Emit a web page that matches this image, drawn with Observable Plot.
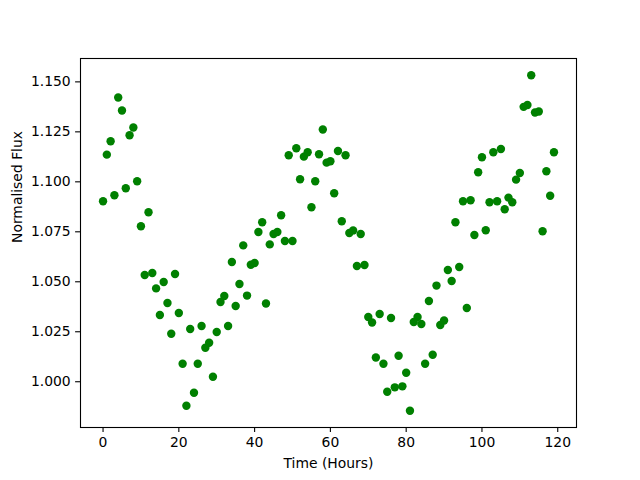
<!DOCTYPE html>
<html>
<head>
<meta charset="utf-8">
<script src="https://cdn.jsdelivr.net/npm/d3@7"></script>
<script src="https://cdn.jsdelivr.net/npm/@observablehq/plot@0.6"></script>
<style>
  html, body { margin: 0; padding: 0; background: #fff; }
  svg { display: block; }
</style>
</head>
<body>
<div id="chart"></div>
<script>
const hours = [
  0,1,2,3,4,5,6,7,8,9,10,11,12,13,14,15,16,17,18,19,
  20,21,22,23,24,25,26,27,28,29,30,31,32,33,34,35,36,37,38,39,
  40,41,42,43,44,45,46,47,48,49,50,51,52,53,54,55,56,57,58,59,
  60,61,62,63,64,65,66,67,68,69,70,71,72,73,74,75,76,77,78,79,
  80,81,82,83,84,85,86,87,88,89,90,91,92,93,94,95,96,97,98,99,
  100,101,102,103,104,105,106,107,108,109,110,111,112,113,114,115,116,117,118,119
];
const flux = [
  1.0903,1.1136,1.1203,1.0933,1.1422,1.1357,1.0968,1.1233,1.1272,1.1003,
  1.0778,1.0534,1.0848,1.0544,1.0467,1.0334,1.0499,1.0394,1.0240,1.0539,
  1.0344,1.0090,0.9880,1.0264,0.9945,1.0090,1.0279,1.0170,1.0195,1.0025,
  1.0249,1.0399,1.0429,1.0279,1.0599,1.0379,1.0489,1.0682,1.0431,1.0585,
  1.0594,1.0749,1.0798,1.0391,1.0687,1.0739,1.0749,1.0833,1.0704,1.1133,
  1.0704,1.1168,1.1013,1.1126,1.1148,1.0873,1.1003,1.1138,1.1262,1.1096,
  1.1103,1.0943,1.1154,1.0803,1.1133,1.0744,1.0757,1.0579,1.0739,1.0584,
  1.0324,1.0296,1.0121,1.0339,1.0090,0.9950,1.0319,0.9972,1.0130,0.9977,
  1.0045,0.9855,1.0299,1.0324,1.0289,1.0090,1.0404,1.0135,1.0481,1.0284,
  1.0306,1.0559,1.0504,1.0798,1.0574,1.0903,1.0369,1.0908,1.0734,1.1048,
  1.1123,1.0758,1.0898,1.1148,1.0903,1.1164,1.0863,1.0921,1.0898,1.1011,
  1.1044,1.1375,1.1384,1.1533,1.1347,1.1352,1.0753,1.1053,1.0930,1.1148
];
const xTicks = [0, 20, 40, 60, 80, 100, 120];
const yTicks = [1.000, 1.025, 1.050, 1.075, 1.100, 1.125, 1.150];
const xLabel = "Time (Hours)";
const yLabel = "Normalised Flux";

const data = hours.map((t, i) => ({t, f: flux[i]}));

function padded(ext) {
  const r = ext[1] - ext[0];
  return [ext[0] - 0.05 * r, ext[1] + 0.05 * r];
}
const xDomain = padded(d3.extent(hours));
const yDomain = padded(d3.extent(flux));

const font = "DejaVu Sans, sans-serif";
const lw = 1.1;

const chart = Plot.plot({
  width: 640,
  height: 480,
  marginLeft: 80,
  marginRight: 64,
  marginTop: 58,
  marginBottom: 53,
  style: {fontFamily: font, fontSize: "13.9px", color: "black", background: "white"},
  x: {domain: xDomain},
  y: {domain: yDomain},
  marks: [
    Plot.dot(data, {x: "t", y: "f", r: 4.2, fill: "green", stroke: null}),
    Plot.frame({stroke: "black", strokeWidth: lw}),
    Plot.axisX(xTicks, {
      anchor: "bottom", label: null, tickSize: 4.9, tickPadding: 4.9,
      strokeWidth: lw, fontSize: 13.9, tickFormat: d => String(d)
    }),
    Plot.axisY(yTicks, {
      anchor: "left", label: null, tickSize: 4.9, tickPadding: 4.9,
      strokeWidth: lw, fontSize: 13.9, tickFormat: d3.format(".3f")
    }),
    Plot.text([xLabel], {
      frameAnchor: "bottom", dy: 36, text: d => d, fontSize: 13.9,
      lineAnchor: "middle", fill: "black"
    }),
    Plot.text([yLabel], {
      frameAnchor: "left", dx: -63, rotate: -90, text: d => d, fontSize: 13.9,
      lineAnchor: "middle", fill: "black"
    })
  ]
});
document.getElementById("chart").appendChild(chart);
</script>
</body>
</html>
